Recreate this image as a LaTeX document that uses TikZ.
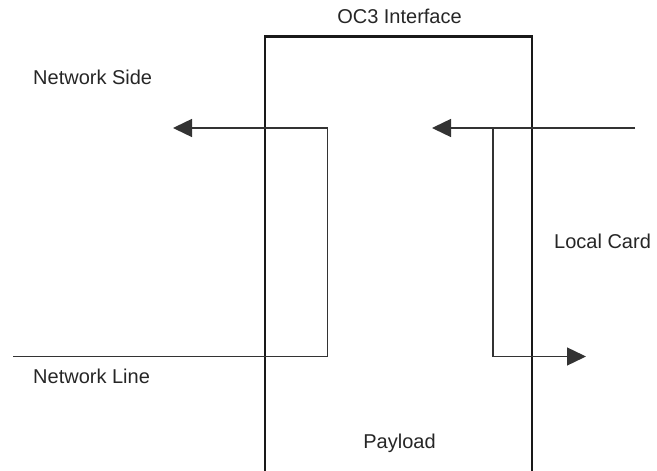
\documentclass[tikz,border=0pt]{standalone}
\usepackage{fontspec}
\setmainfont{Liberation Sans}
\usetikzlibrary{arrows.meta}
\begin{document}
\begin{tikzpicture}[x=1pt,y=-1pt,
  lbl/.style={inner sep=0pt,font=\fontsize{20}{24}\selectfont,text=black!85},
  boxline/.style={line width=2.4pt,black!90},
  sigline/.style={line width=1.4pt,black!80},
  tip/.style={-{Triangle[length=19pt,width=18pt]}}]
\useasboundingbox (0,0) rectangle (657,471);
% box (open at bottom)
\coordinate (bl) at (265,472);
\coordinate (tl) at (265,36.5);
\coordinate (tr) at (532,36.5);
\coordinate (br) at (532,472);
\draw[boxline] (bl) -- (tl) -- (tr) -- (br);
% left signal path
\coordinate (nlin) at (13,356.5);
\coordinate (nlc) at (327.5,356.5);
\coordinate (ntc) at (327.5,128);
\coordinate (nsout) at (173,128);
\draw[sigline,tip] (nlin) -- (nlc) -- (ntc) -- (nsout);
% right signal path
\coordinate (lcin) at (635,128);
\coordinate (lcout) at (432,128);
\draw[sigline,tip] (lcin) -- (lcout);
\coordinate (lct) at (493,128);
\coordinate (lcb) at (493,356.5);
\coordinate (lcend) at (586,356.5);
\draw[sigline,tip] (lct) -- (lcb) -- (lcend);
% labels
\node[lbl,anchor=base] (oc3) at (399.5,23.5) {OC3 Interface};
\node[lbl,anchor=base west] (nside) at (33,84) {Network Side};
\node[lbl,anchor=base west] (lcard) at (554,248) {Local Card};
\node[lbl,anchor=base west] (nline) at (33,383) {Network Line};
\node[lbl,anchor=base] (pay) at (399.5,448.5) {Payload};
\end{tikzpicture}
\end{document}
